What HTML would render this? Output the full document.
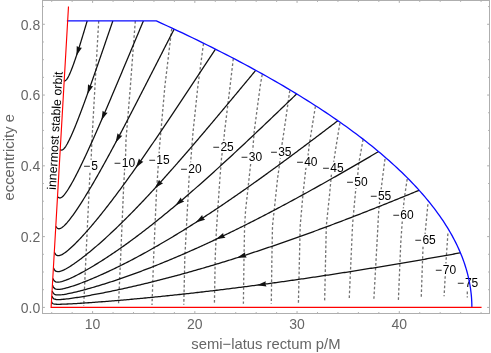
<!DOCTYPE html>
<html><head><meta charset="utf-8"><title>plot</title><style>html,body{margin:0;padding:0;background:#fff}body{width:491px;height:353px;position:relative;overflow:hidden;font-family:"Liberation Sans",sans-serif}</style></head><body>
<svg width="491" height="353" viewBox="0 0 491 353" style="position:absolute;left:0;top:0;will-change:transform">
<rect width="491" height="353" fill="#fff"/>
<g fill="none" stroke="#727272" stroke-width="1.3" stroke-dasharray="2.6 2.15">
<polyline points="98.70,21.00 95.00,86.00 91.80,142.90 91.10,160.00 90.00,172.00 85.90,258.00 83.70,306.00"/>
<polyline points="135.30,21.00 130.40,86.00 126.00,140.00 125.60,155.70 124.60,169.20 123.50,190.00 120.60,258.00 118.50,305.00"/>
<polyline points="171.70,28.80 164.90,86.00 159.60,146.00 158.20,166.40 156.40,193.50 153.60,258.00 152.00,305.00"/>
<polyline points="203.50,43.50 197.90,86.00 193.10,131.40 190.70,161.40 189.20,175.60 186.50,226.00 184.80,258.00 183.80,304.80"/>
<polyline points="233.30,58.70 230.10,86.00 224.60,131.40 223.20,146.80 221.60,157.00 219.90,178.50 216.30,232.00 215.20,258.00 214.40,304.80"/>
<polyline points="262.20,74.50 260.20,86.00 254.20,131.40 252.80,150.00 250.70,163.50 249.00,179.20 245.60,210.00 244.60,226.00 244.00,258.00 243.40,303.80"/>
<polyline points="289.80,90.50 284.20,130.00 281.80,145.70 280.30,158.50 277.50,179.20 272.50,226.00 271.90,258.00 271.30,303.80"/>
<polyline points="315.40,106.40 309.20,145.00 308.20,154.30 305.70,170.00 303.10,192.80 300.20,226.00 298.40,303.20"/>
<polyline points="339.90,123.00 336.30,145.00 333.90,160.70 331.30,175.70 329.60,194.20 326.30,226.00 324.60,302.60"/>
<polyline points="363.10,139.40 358.50,165.00 357.80,174.30 355.70,190.00 353.50,213.50 352.50,226.00 349.20,299.90"/>
<polyline points="385.00,159.00 384.20,165.00 381.30,187.80 379.20,205.60 378.50,214.20 377.60,232.00 373.80,300.40"/>
<polyline points="407.20,179.00 404.20,199.30 403.50,206.40 402.10,223.50 400.70,244.20 398.40,299.90"/>
<polyline points="427.90,204.20 425.20,232.80 423.00,247.30 421.20,298.80"/>
<polyline points="447.90,233.50 446.10,260.10 445.10,278.20 444.10,296.20"/>
<polyline points="467.30,291.60 467.30,297.60"/>
</g>
<g fill="#fff" stroke="none">
<rect x="83.4" y="159.8" width="14.7" height="12.4"/>
<rect x="113.9" y="156.3" width="21.4" height="12.4"/>
<rect x="148.5" y="153.2" width="21.4" height="12.4"/>
<rect x="180.4" y="162.3" width="21.4" height="12.4"/>
<rect x="212.6" y="140.6" width="21.4" height="12.4"/>
<rect x="240.9" y="150.2" width="21.4" height="12.4"/>
<rect x="270.3" y="145.9" width="21.4" height="12.4"/>
<rect x="296.3" y="155.4" width="21.4" height="12.4"/>
<rect x="322.4" y="161.8" width="21.4" height="12.4"/>
<rect x="346.4" y="175.6" width="21.4" height="12.4"/>
<rect x="370.1" y="189.3" width="21.4" height="12.4"/>
<rect x="392.5" y="208.3" width="21.4" height="12.4"/>
<rect x="414.6" y="233.9" width="21.4" height="12.4"/>
<rect x="435.0" y="263.4" width="21.4" height="12.4"/>
<rect x="457.1" y="276.5" width="21.4" height="12.4"/>
</g>
<g font-family="Liberation Sans, sans-serif" font-size="12" fill="#000">
<text x="97.85" y="170.3" text-anchor="end">5</text><text x="83.30" y="170.3">−</text>
<text x="135.10" y="166.8" text-anchor="end">10</text><text x="113.85" y="166.8">−</text>
<text x="169.70" y="163.7" text-anchor="end">15</text><text x="148.45" y="163.7">−</text>
<text x="201.60" y="172.8" text-anchor="end">20</text><text x="180.35" y="172.8">−</text>
<text x="233.80" y="151.1" text-anchor="end">25</text><text x="212.55" y="151.1">−</text>
<text x="262.10" y="160.7" text-anchor="end">30</text><text x="240.85" y="160.7">−</text>
<text x="291.50" y="156.4" text-anchor="end">35</text><text x="270.25" y="156.4">−</text>
<text x="317.50" y="165.9" text-anchor="end">40</text><text x="296.25" y="165.9">−</text>
<text x="343.60" y="172.3" text-anchor="end">45</text><text x="322.35" y="172.3">−</text>
<text x="367.60" y="186.1" text-anchor="end">50</text><text x="346.35" y="186.1">−</text>
<text x="391.30" y="199.8" text-anchor="end">55</text><text x="370.05" y="199.8">−</text>
<text x="413.70" y="218.8" text-anchor="end">60</text><text x="392.45" y="218.8">−</text>
<text x="435.80" y="244.4" text-anchor="end">65</text><text x="414.55" y="244.4">−</text>
<text x="456.20" y="273.9" text-anchor="end">70</text><text x="434.95" y="273.9">−</text>
<text x="478.30" y="287.0" text-anchor="end">75</text><text x="457.05" y="287.0">−</text>
</g>
<g fill="none" stroke="#111" stroke-width="1.28" stroke-linejoin="round">
<polyline points="87.18,20.92 86.94,21.73 86.51,23.17 86.09,24.61 85.66,26.05 85.23,27.48 84.80,28.92 84.37,30.36 83.94,31.79 83.50,33.23 83.07,34.66 82.63,36.10 82.19,37.53 81.75,38.97 81.31,40.40 80.87,41.83 80.42,43.27 79.98,44.70 79.53,46.13 79.08,47.56 78.62,48.99 78.16,50.42 77.70,51.85 77.24,53.27 76.77,54.70 76.30,56.12 75.83,57.54 75.35,58.97 74.86,60.39 74.37,61.80 73.87,63.22 73.37,64.63 72.85,66.04 72.33,67.44 71.79,68.85 71.24,70.24 70.68,71.63 70.10,73.01 69.49,74.38 68.85,75.74 68.16,77.07 67.41,78.37 66.55,79.60 65.47,80.63 64.00,81.25"/>
<polyline points="112.84,20.92 112.56,21.72 112.08,23.14 111.59,24.56 111.10,25.98 110.61,27.40 110.13,28.82 109.64,30.24 109.15,31.65 108.67,33.07 108.18,34.49 107.69,35.91 107.20,37.33 106.71,38.75 106.23,40.17 105.74,41.58 105.25,43.00 104.76,44.42 104.27,45.84 103.79,47.26 103.30,48.68 102.81,50.09 102.32,51.51 101.83,52.93 101.34,54.35 100.85,55.77 100.36,57.18 99.87,58.60 99.38,60.02 98.89,61.44 98.40,62.85 97.91,64.27 97.42,65.69 96.92,67.10 96.43,68.52 95.94,69.94 95.44,71.35 94.95,72.77 94.45,74.19 93.96,75.60 93.46,77.02 92.96,78.43 92.47,79.85 91.97,81.26 91.47,82.68 90.97,84.09 90.47,85.50 89.97,86.92 89.46,88.33 88.96,89.74 88.46,91.16 87.95,92.57 87.44,93.98 86.94,95.39 86.43,96.80 85.92,98.21 85.40,99.62 84.89,101.03 84.38,102.44 83.86,103.85 83.34,105.26 82.82,106.66 82.30,108.07 81.77,109.48 81.25,110.88 80.72,112.28 80.19,113.69 79.65,115.09 79.12,116.49 78.58,117.89 78.04,119.29 77.49,120.69 76.94,122.08 76.39,123.47 75.83,124.87 75.27,126.26 74.70,127.65 74.12,129.03 73.54,130.42 72.96,131.80 72.36,133.17 71.76,134.55 71.15,135.92 70.52,137.28 69.89,138.64 69.24,139.99 68.57,141.33 67.88,142.66 67.16,143.98 66.41,145.28 65.61,146.55 64.74,147.77 63.77,148.92 62.61,149.86 61.22,150.08 59.97,149.58"/>
<polyline points="143.41,20.92 143.08,21.71 142.49,23.09 141.91,24.47 141.33,25.85 140.75,27.24 140.17,28.62 139.58,30.00 139.00,31.38 138.42,32.77 137.84,34.15 137.26,35.53 136.68,36.91 136.10,38.30 135.52,39.68 134.94,41.06 134.36,42.45 133.78,43.83 133.20,45.21 132.62,46.60 132.04,47.98 131.46,49.36 130.88,50.75 130.30,52.13 129.72,53.51 129.14,54.90 128.56,56.28 127.98,57.66 127.39,59.05 126.81,60.43 126.23,61.81 125.65,63.20 125.07,64.58 124.49,65.96 123.91,67.35 123.33,68.73 122.75,70.11 122.17,71.49 121.59,72.88 121.01,74.26 120.43,75.64 119.85,77.03 119.26,78.41 118.68,79.79 118.10,81.17 117.52,82.56 116.94,83.94 116.35,85.32 115.77,86.70 115.19,88.08 114.60,89.47 114.02,90.85 113.43,92.23 112.85,93.61 112.26,94.99 111.68,96.37 111.09,97.75 110.51,99.13 109.92,100.51 109.33,101.89 108.74,103.27 108.15,104.65 107.57,106.03 106.98,107.41 106.39,108.79 105.79,110.17 105.20,111.55 104.61,112.93 104.02,114.30 103.42,115.68 102.83,117.06 102.24,118.44 101.64,119.81 101.04,121.19 100.44,122.57 99.85,123.94 99.25,125.32 98.65,126.69 98.04,128.06 97.44,129.44 96.84,130.81 96.23,132.18 95.63,133.56 95.02,134.93 94.41,136.30 93.80,137.67 93.19,139.04 92.58,140.41 91.97,141.78 91.35,143.14 90.73,144.51 90.11,145.88 89.49,147.24 88.87,148.61 88.25,149.97 87.62,151.34 86.99,152.70 86.36,154.06 85.73,155.42 85.09,156.78 84.45,158.13 83.81,159.49 83.17,160.85 82.52,162.20 81.88,163.55 81.22,164.90 80.57,166.25 79.91,167.60 79.24,168.94 78.58,170.29 77.91,171.63 77.23,172.97 76.55,174.30 75.86,175.64 75.17,176.97 74.47,178.29 73.76,179.62 73.05,180.94 72.32,182.25 71.59,183.56 70.85,184.86 70.09,186.16 69.32,187.45 68.54,188.72 67.73,189.99 66.90,191.24 66.05,192.47 65.15,193.68 64.21,194.85 63.21,195.96 62.10,196.97 60.84,197.77 59.38,197.99 58.15,197.19 57.41,196.52"/>
<polyline points="174.18,29.13 173.79,29.89 173.10,31.23 172.42,32.56 171.73,33.89 171.05,35.23 170.36,36.56 169.68,37.90 169.00,39.23 168.31,40.57 167.63,41.90 166.94,43.24 166.26,44.57 165.58,45.91 164.89,47.24 164.21,48.58 163.53,49.91 162.84,51.25 162.16,52.59 161.48,53.92 160.79,55.26 160.11,56.59 159.43,57.93 158.75,59.26 158.06,60.60 157.38,61.93 156.70,63.27 156.02,64.61 155.33,65.94 154.65,67.28 153.97,68.61 153.29,69.95 152.60,71.28 151.92,72.62 151.24,73.96 150.55,75.29 149.87,76.63 149.19,77.96 148.50,79.30 147.82,80.63 147.14,81.97 146.45,83.30 145.77,84.64 145.09,85.97 144.40,87.31 143.72,88.64 143.03,89.98 142.35,91.31 141.66,92.65 140.98,93.98 140.29,95.32 139.61,96.65 138.92,97.98 138.24,99.32 137.55,100.65 136.86,101.98 136.18,103.32 135.49,104.65 134.80,105.98 134.11,107.32 133.42,108.65 132.73,109.98 132.05,111.31 131.36,112.65 130.66,113.98 129.97,115.31 129.28,116.64 128.59,117.97 127.90,119.30 127.21,120.63 126.51,121.96 125.82,123.29 125.12,124.62 124.43,125.95 123.73,127.28 123.03,128.61 122.34,129.94 121.64,131.26 120.94,132.59 120.24,133.92 119.54,135.24 118.84,136.57 118.14,137.89 117.43,139.22 116.73,140.54 116.02,141.87 115.32,143.19 114.61,144.52 113.90,145.84 113.20,147.16 112.49,148.48 111.77,149.80 111.06,151.12 110.35,152.44 109.63,153.76 108.92,155.08 108.20,156.40 107.48,157.71 106.76,159.03 106.04,160.34 105.32,161.66 104.60,162.97 103.87,164.29 103.14,165.60 102.42,166.91 101.69,168.22 100.95,169.53 100.22,170.84 99.49,172.14 98.75,173.45 98.01,174.76 97.27,176.06 96.52,177.36 95.78,178.67 95.03,179.97 94.28,181.26 93.53,182.56 92.77,183.86 92.02,185.15 91.26,186.45 90.50,187.74 89.73,189.03 88.96,190.32 88.19,191.60 87.42,192.89 86.64,194.17 85.86,195.45 85.07,196.73 84.28,198.01 83.49,199.28 82.69,200.55 81.89,201.82 81.09,203.08 80.28,204.35 79.46,205.60 78.64,206.86 77.81,208.11 76.98,209.36 76.13,210.60 75.29,211.83 74.43,213.07 73.56,214.29 72.69,215.51 71.80,216.72 70.90,217.92 69.99,219.11 69.06,220.29 68.11,221.45 67.14,222.59 66.14,223.71 65.12,224.81 64.04,225.86 62.92,226.85 61.72,227.74 60.40,228.46 58.95,228.81 57.53,228.40 56.52,227.31 55.82,226.33"/>
<polyline points="215.48,49.15 215.01,49.87 214.18,51.12 213.35,52.37 212.53,53.62 211.70,54.87 210.87,56.12 210.04,57.37 209.22,58.62 208.39,59.88 207.56,61.13 206.73,62.38 205.91,63.63 205.08,64.88 204.25,66.13 203.43,67.38 202.60,68.64 201.77,69.89 200.95,71.14 200.12,72.39 199.29,73.64 198.47,74.89 197.64,76.15 196.81,77.40 195.98,78.65 195.16,79.90 194.33,81.15 193.50,82.40 192.68,83.65 191.85,84.90 191.02,86.16 190.19,87.41 189.37,88.66 188.54,89.91 187.71,91.16 186.88,92.41 186.05,93.66 185.22,94.91 184.39,96.16 183.57,97.41 182.74,98.66 181.91,99.91 181.08,101.16 180.25,102.41 179.42,103.66 178.59,104.91 177.76,106.16 176.93,107.41 176.09,108.65 175.26,109.90 174.43,111.15 173.60,112.40 172.76,113.65 171.93,114.89 171.10,116.14 170.26,117.39 169.43,118.63 168.60,119.88 167.76,121.13 166.92,122.37 166.09,123.62 165.25,124.86 164.41,126.11 163.58,127.35 162.74,128.59 161.90,129.84 161.06,131.08 160.22,132.32 159.38,133.57 158.54,134.81 157.70,136.05 156.85,137.29 156.01,138.53 155.17,139.77 154.32,141.01 153.48,142.25 152.63,143.49 151.79,144.73 150.94,145.97 150.09,147.20 149.24,148.44 148.39,149.68 147.54,150.91 146.69,152.15 145.84,153.38 144.98,154.61 144.13,155.85 143.27,157.08 142.42,158.31 141.56,159.54 140.70,160.77 139.84,162.00 138.98,163.23 138.12,164.46 137.25,165.68 136.39,166.91 135.53,168.13 134.66,169.36 133.79,170.58 132.92,171.80 132.05,173.03 131.18,174.25 130.31,175.47 129.43,176.69 128.56,177.90 127.68,179.12 126.80,180.34 125.92,181.55 125.04,182.76 124.16,183.98 123.27,185.19 122.39,186.40 121.50,187.61 120.61,188.82 119.72,190.02 118.82,191.23 117.93,192.43 117.03,193.63 116.13,194.83 115.23,196.03 114.33,197.23 113.42,198.43 112.52,199.62 111.61,200.81 110.70,202.01 109.78,203.20 108.87,204.38 107.95,205.57 107.03,206.75 106.10,207.94 105.18,209.12 104.25,210.30 103.32,211.47 102.39,212.65 101.45,213.82 100.51,214.99 99.57,216.15 98.63,217.32 97.68,218.48 96.73,219.64 95.77,220.80 94.81,221.95 93.85,223.10 92.89,224.25 91.92,225.40 90.95,226.54 89.97,227.68 88.99,228.81 88.00,229.94 87.01,231.07 86.02,232.20 85.02,233.31 84.02,234.43 83.01,235.54 81.99,236.64 80.97,237.74 79.94,238.83 78.91,239.92 77.87,241.00 76.82,242.07 75.76,243.14 74.70,244.19 73.62,245.24 72.54,246.27 71.44,247.30 70.33,248.30 69.20,249.29 68.06,250.27 66.89,251.21 65.71,252.13 64.49,253.00 63.23,253.83 61.93,254.57 60.57,255.20 59.14,255.63 57.65,255.68 56.28,255.11 55.28,254.00 54.39,252.42"/>
<polyline points="255.76,70.30 255.21,70.96 254.26,72.12 253.30,73.27 252.34,74.42 251.38,75.58 250.42,76.73 249.46,77.89 248.51,79.04 247.55,80.19 246.59,81.35 245.63,82.50 244.67,83.66 243.71,84.81 242.76,85.96 241.80,87.12 240.84,88.27 239.88,89.42 238.92,90.58 237.96,91.73 237.00,92.88 236.04,94.04 235.08,95.19 234.12,96.34 233.16,97.49 232.20,98.65 231.24,99.80 230.28,100.95 229.32,102.10 228.36,103.25 227.40,104.41 226.44,105.56 225.48,106.71 224.51,107.86 223.55,109.01 222.59,110.16 221.63,111.31 220.66,112.46 219.70,113.61 218.74,114.76 217.77,115.91 216.81,117.06 215.84,118.21 214.88,119.36 213.91,120.50 212.95,121.65 211.98,122.80 211.02,123.95 210.05,125.09 209.08,126.24 208.11,127.39 207.15,128.53 206.18,129.68 205.21,130.82 204.24,131.97 203.27,133.11 202.30,134.25 201.33,135.40 200.35,136.54 199.38,137.68 198.41,138.82 197.44,139.97 196.46,141.11 195.49,142.25 194.51,143.39 193.54,144.53 192.56,145.66 191.58,146.80 190.60,147.94 189.63,149.08 188.65,150.21 187.67,151.35 186.69,152.48 185.70,153.62 184.72,154.75 183.74,155.88 182.76,157.02 181.77,158.15 180.79,159.28 179.80,160.41 178.81,161.54 177.82,162.67 176.84,163.80 175.85,164.92 174.85,166.05 173.86,167.17 172.87,168.30 171.88,169.42 170.88,170.54 169.89,171.67 168.89,172.79 167.89,173.91 166.89,175.03 165.89,176.14 164.89,177.26 163.89,178.38 162.89,179.49 161.88,180.61 160.88,181.72 159.87,182.83 158.86,183.94 157.85,185.05 156.84,186.16 155.83,187.27 154.82,188.37 153.80,189.48 152.78,190.58 151.77,191.68 150.75,192.78 149.73,193.88 148.71,194.98 147.68,196.08 146.66,197.17 145.63,198.27 144.60,199.36 143.57,200.45 142.54,201.54 141.51,202.63 140.47,203.71 139.44,204.80 138.40,205.88 137.36,206.96 136.32,208.04 135.28,209.12 134.23,210.20 133.18,211.27 132.14,212.34 131.08,213.41 130.03,214.48 128.98,215.55 127.92,216.61 126.86,217.67 125.80,218.73 124.74,219.79 123.67,220.85 122.60,221.90 121.53,222.95 120.46,224.00 119.39,225.05 118.31,226.09 117.23,227.14 116.15,228.18 115.07,229.21 113.98,230.25 112.89,231.28 111.80,232.31 110.70,233.33 109.61,234.35 108.51,235.37 107.40,236.39 106.30,237.40 105.19,238.41 104.08,239.42 102.96,240.43 101.84,241.43 100.72,242.42 99.60,243.41 98.47,244.40 97.34,245.39 96.21,246.37 95.07,247.35 93.92,248.32 92.78,249.29 91.63,250.25 90.47,251.21 89.32,252.16 88.15,253.11 86.99,254.05 85.82,254.99 84.64,255.92 83.46,256.84 82.27,257.76 81.08,258.67 79.88,259.57 78.67,260.47 77.46,261.35 76.25,262.23 75.02,263.09 73.79,263.94 72.54,264.78 71.29,265.61 70.03,266.42 68.75,267.21 67.46,267.97 66.16,268.71 64.83,269.41 63.48,270.07 62.10,270.66 60.69,271.17 59.24,271.54 57.75,271.68 56.28,271.42 55.04,270.60 54.18,269.38 53.54,268.07"/>
<polyline points="296.65,93.91 296.03,94.51 294.95,95.55 293.87,96.59 292.79,97.63 291.71,98.67 290.63,99.71 289.55,100.75 288.47,101.79 287.39,102.83 286.31,103.87 285.23,104.91 284.15,105.95 283.06,106.99 281.98,108.02 280.90,109.06 279.82,110.10 278.73,111.14 277.65,112.18 276.57,113.22 275.49,114.25 274.40,115.29 273.32,116.33 272.23,117.36 271.15,118.40 270.06,119.44 268.98,120.47 267.89,121.51 266.81,122.54 265.72,123.58 264.64,124.61 263.55,125.65 262.46,126.68 261.38,127.71 260.29,128.75 259.20,129.78 258.11,130.81 257.02,131.84 255.93,132.87 254.84,133.90 253.75,134.94 252.66,135.97 251.57,136.99 250.48,138.02 249.39,139.05 248.30,140.08 247.20,141.11 246.11,142.14 245.02,143.16 243.92,144.19 242.83,145.21 241.73,146.24 240.64,147.26 239.54,148.29 238.45,149.31 237.35,150.33 236.25,151.35 235.15,152.38 234.05,153.40 232.95,154.42 231.85,155.44 230.75,156.46 229.65,157.47 228.55,158.49 227.44,159.51 226.34,160.52 225.24,161.54 224.13,162.55 223.03,163.57 221.92,164.58 220.81,165.59 219.71,166.60 218.60,167.61 217.49,168.62 216.38,169.63 215.27,170.64 214.15,171.65 213.04,172.65 211.93,173.66 210.81,174.66 209.70,175.67 208.58,176.67 207.47,177.67 206.35,178.67 205.23,179.67 204.11,180.67 202.99,181.67 201.87,182.66 200.75,183.66 199.62,184.65 198.50,185.65 197.38,186.64 196.25,187.63 195.12,188.62 193.99,189.61 192.86,190.59 191.73,191.58 190.60,192.56 189.47,193.55 188.34,194.53 187.20,195.51 186.07,196.49 184.93,197.47 183.79,198.45 182.65,199.42 181.51,200.40 180.37,201.37 179.23,202.34 178.08,203.31 176.94,204.28 175.79,205.24 174.64,206.21 173.49,207.17 172.34,208.14 171.19,209.10 170.03,210.06 168.88,211.01 167.72,211.97 166.57,212.92 165.41,213.87 164.25,214.82 163.08,215.77 161.92,216.72 160.76,217.66 159.59,218.61 158.42,219.55 157.25,220.49 156.08,221.43 154.91,222.36 153.73,223.29 152.56,224.23 151.38,225.15 150.20,226.08 149.02,227.01 147.84,227.93 146.65,228.85 145.47,229.77 144.28,230.68 143.09,231.60 141.90,232.51 140.71,233.42 139.51,234.32 138.31,235.23 137.11,236.13 135.91,237.03 134.71,237.93 133.51,238.82 132.30,239.71 131.09,240.60 129.88,241.48 128.67,242.37 127.45,243.25 126.24,244.12 125.02,245.00 123.80,245.87 122.57,246.74 121.35,247.60 120.12,248.46 118.89,249.32 117.66,250.18 116.42,251.03 115.19,251.88 113.95,252.72 112.70,253.56 111.46,254.40 110.21,255.24 108.96,256.07 107.71,256.89 106.46,257.71 105.20,258.53 103.94,259.35 102.68,260.16 101.41,260.96 100.14,261.76 98.87,262.56 97.60,263.35 96.32,264.14 95.04,264.92 93.76,265.70 92.47,266.47 91.18,267.24 89.89,268.00 88.59,268.75 87.29,269.50 85.99,270.24 84.68,270.98 83.37,271.71 82.06,272.43 80.74,273.14 79.41,273.84 78.08,274.54 76.75,275.22 75.41,275.90 74.06,276.56 72.71,277.21 71.35,277.85 69.99,278.47 68.61,279.07 67.23,279.65 65.84,280.20 64.43,280.72 63.01,281.20 61.57,281.62 60.11,281.96 58.62,282.17 57.12,282.19 55.67,281.86 54.43,281.03 53.59,279.79 52.96,278.42"/>
<polyline points="337.85,120.69 337.24,121.16 336.04,122.07 334.85,122.98 333.66,123.89 332.47,124.80 331.27,125.71 330.08,126.62 328.89,127.53 327.69,128.43 326.50,129.34 325.31,130.25 324.11,131.16 322.92,132.07 321.72,132.97 320.53,133.88 319.33,134.78 318.13,135.69 316.94,136.59 315.74,137.50 314.54,138.40 313.35,139.31 312.15,140.21 310.95,141.11 309.75,142.01 308.55,142.92 307.36,143.82 306.16,144.72 304.96,145.62 303.76,146.52 302.56,147.42 301.35,148.32 300.15,149.22 298.95,150.11 297.75,151.01 296.55,151.91 295.34,152.80 294.14,153.70 292.94,154.59 291.73,155.49 290.53,156.38 289.32,157.27 288.12,158.17 286.91,159.06 285.70,159.95 284.50,160.84 283.29,161.73 282.08,162.62 280.87,163.51 279.66,164.39 278.45,165.28 277.24,166.17 276.03,167.05 274.82,167.94 273.61,168.82 272.40,169.70 271.18,170.59 269.97,171.47 268.76,172.35 267.54,173.23 266.33,174.11 265.11,174.99 263.89,175.86 262.68,176.74 261.46,177.62 260.24,178.49 259.02,179.37 257.80,180.24 256.58,181.11 255.36,181.98 254.14,182.85 252.92,183.72 251.69,184.59 250.47,185.46 249.24,186.32 248.02,187.19 246.79,188.05 245.57,188.92 244.34,189.78 243.11,190.64 241.88,191.50 240.65,192.36 239.42,193.22 238.19,194.07 236.96,194.93 235.73,195.78 234.49,196.64 233.26,197.49 232.02,198.34 230.79,199.19 229.55,200.04 228.31,200.89 227.07,201.73 225.83,202.58 224.59,203.42 223.35,204.26 222.11,205.10 220.87,205.94 219.62,206.78 218.38,207.62 217.13,208.45 215.89,209.29 214.64,210.12 213.39,210.95 212.14,211.78 210.89,212.61 209.64,213.44 208.39,214.26 207.13,215.09 205.88,215.91 204.62,216.73 203.37,217.55 202.11,218.37 200.85,219.18 199.59,220.00 198.33,220.81 197.07,221.62 195.80,222.43 194.54,223.24 193.27,224.04 192.01,224.85 190.74,225.65 189.47,226.45 188.20,227.25 186.93,228.05 185.66,228.84 184.39,229.63 183.11,230.43 181.84,231.22 180.56,232.00 179.28,232.79 178.00,233.57 176.72,234.35 175.44,235.13 174.16,235.91 172.88,236.69 171.59,237.46 170.30,238.23 169.02,239.00 167.73,239.77 166.44,240.53 165.15,241.30 163.85,242.06 162.56,242.81 161.26,243.57 159.97,244.32 158.67,245.08 157.37,245.82 156.07,246.57 154.76,247.31 153.46,248.06 152.16,248.80 150.85,249.53 149.54,250.27 148.23,251.00 146.92,251.73 145.61,252.45 144.29,253.18 142.98,253.90 141.66,254.61 140.34,255.33 139.02,256.04 137.70,256.75 136.38,257.46 135.05,258.16 133.73,258.86 132.40,259.56 131.07,260.26 129.74,260.95 128.41,261.64 127.07,262.32 125.74,263.00 124.40,263.68 123.06,264.36 121.72,265.03 120.38,265.70 119.03,266.36 117.69,267.03 116.34,267.69 114.99,268.34 113.64,268.99 112.28,269.64 110.93,270.28 109.57,270.92 108.21,271.56 106.85,272.19 105.49,272.82 104.13,273.44 102.76,274.06 101.39,274.67 100.02,275.28 98.65,275.89 97.27,276.49 95.90,277.09 94.52,277.68 93.14,278.26 91.76,278.84 90.37,279.42 88.98,279.99 87.59,280.55 86.20,281.11 84.81,281.66 83.41,282.21 82.01,282.74 80.60,283.27 79.20,283.80 77.79,284.31 76.38,284.81 74.96,285.31 73.54,285.79 72.12,286.26 70.69,286.72 69.25,287.16 67.81,287.59 66.37,287.99 64.92,288.36 63.46,288.70 61.99,289.00 60.51,289.24 59.01,289.39 57.51,289.40 56.03,289.18 54.67,288.57 53.63,287.50 52.99,286.15 52.61,285.21"/>
<polyline points="378.54,151.59 377.80,152.02 376.50,152.78 375.21,153.54 373.92,154.30 372.62,155.06 371.33,155.82 370.04,156.58 368.74,157.33 367.45,158.09 366.15,158.85 364.85,159.60 363.56,160.36 362.26,161.11 360.97,161.87 359.67,162.62 358.37,163.37 357.07,164.12 355.78,164.88 354.48,165.63 353.18,166.38 351.88,167.13 350.58,167.88 349.28,168.63 347.98,169.37 346.68,170.12 345.38,170.87 344.08,171.62 342.78,172.36 341.47,173.11 340.17,173.85 338.87,174.59 337.57,175.34 336.26,176.08 334.96,176.82 333.65,177.56 332.35,178.30 331.04,179.04 329.74,179.78 328.43,180.52 327.13,181.25 325.82,181.99 324.51,182.73 323.20,183.46 321.90,184.19 320.59,184.93 319.28,185.66 317.97,186.39 316.66,187.12 315.35,187.85 314.04,188.58 312.73,189.31 311.41,190.04 310.10,190.76 308.79,191.49 307.48,192.21 306.16,192.94 304.85,193.66 303.53,194.38 302.22,195.11 300.90,195.83 299.59,196.54 298.27,197.26 296.95,197.98 295.64,198.70 294.32,199.41 293.00,200.13 291.68,200.84 290.36,201.55 289.04,202.27 287.72,202.98 286.40,203.69 285.07,204.39 283.75,205.10 282.43,205.81 281.10,206.51 279.78,207.22 278.45,207.92 277.13,208.62 275.80,209.32 274.48,210.02 273.15,210.72 271.82,211.42 270.49,212.12 269.16,212.81 267.83,213.51 266.50,214.20 265.17,214.89 263.84,215.58 262.51,216.27 261.18,216.96 259.84,217.65 258.51,218.33 257.17,219.02 255.84,219.70 254.50,220.38 253.17,221.06 251.83,221.74 250.49,222.42 249.15,223.10 247.81,223.77 246.47,224.45 245.13,225.12 243.79,225.79 242.45,226.46 241.11,227.13 239.76,227.80 238.42,228.46 237.07,229.13 235.73,229.79 234.38,230.45 233.04,231.11 231.69,231.77 230.34,232.43 228.99,233.08 227.64,233.74 226.29,234.39 224.94,235.04 223.59,235.69 222.23,236.34 220.88,236.99 219.53,237.63 218.17,238.27 216.81,238.92 215.46,239.56 214.10,240.19 212.74,240.83 211.38,241.47 210.02,242.10 208.66,242.73 207.30,243.36 205.94,243.99 204.58,244.62 203.21,245.24 201.85,245.86 200.48,246.48 199.12,247.10 197.75,247.72 196.38,248.34 195.01,248.95 193.64,249.56 192.27,250.17 190.90,250.78 189.53,251.39 188.16,251.99 186.78,252.59 185.41,253.20 184.03,253.79 182.66,254.39 181.28,254.99 179.90,255.58 178.52,256.17 177.14,256.76 175.76,257.34 174.38,257.93 173.00,258.51 171.62,259.09 170.23,259.67 168.85,260.25 167.46,260.82 166.08,261.39 164.69,261.96 163.30,262.53 161.91,263.09 160.52,263.66 159.13,264.22 157.74,264.77 156.34,265.33 154.95,265.88 153.55,266.43 152.16,266.98 150.76,267.53 149.36,268.07 147.96,268.61 146.56,269.15 145.16,269.69 143.76,270.22 142.36,270.76 140.95,271.28 139.55,271.81 138.14,272.33 136.74,272.85 135.33,273.37 133.92,273.89 132.51,274.40 131.10,274.91 129.69,275.42 128.28,275.92 126.86,276.42 125.45,276.92 124.03,277.42 122.62,277.91 121.20,278.40 119.78,278.89 118.36,279.37 116.94,279.85 115.52,280.33 114.09,280.81 112.67,281.28 111.24,281.74 109.82,282.21 108.39,282.67 106.96,283.13 105.53,283.58 104.10,284.03 102.67,284.48 101.24,284.92 99.80,285.36 98.37,285.80 96.93,286.23 95.49,286.66 94.05,287.08 92.61,287.50 91.17,287.92 89.73,288.33 88.29,288.73 86.84,289.13 85.39,289.53 83.95,289.92 82.50,290.30 81.04,290.68 79.59,291.06 78.14,291.42 76.68,291.78 75.22,292.13 73.76,292.48 72.30,292.81 70.83,293.13 69.37,293.44 67.90,293.74 66.42,294.02 64.95,294.28 63.47,294.52 61.98,294.72 60.49,294.88 58.99,294.98 57.49,294.98 56.00,294.82 54.58,294.36 53.42,293.42 52.71,292.11 52.26,290.99"/>
<polyline points="419.12,190.26 418.44,190.55 417.05,191.12 415.67,191.69 414.28,192.26 412.89,192.83 411.51,193.40 410.12,193.97 408.73,194.54 407.34,195.11 405.95,195.68 404.57,196.25 403.18,196.82 401.79,197.38 400.40,197.95 399.01,198.51 397.62,199.08 396.23,199.64 394.84,200.20 393.45,200.77 392.06,201.33 390.67,201.89 389.27,202.45 387.88,203.01 386.49,203.57 385.10,204.12 383.71,204.68 382.31,205.24 380.92,205.79 379.53,206.35 378.13,206.90 376.74,207.46 375.34,208.01 373.95,208.56 372.55,209.11 371.16,209.67 369.76,210.22 368.37,210.76 366.97,211.31 365.58,211.86 364.18,212.41 362.78,212.95 361.38,213.50 359.99,214.04 358.59,214.59 357.19,215.13 355.79,215.67 354.39,216.21 352.99,216.75 351.59,217.29 350.19,217.83 348.79,218.37 347.39,218.91 345.99,219.44 344.59,219.98 343.19,220.51 341.79,221.05 340.39,221.58 338.98,222.11 337.58,222.64 336.18,223.17 334.77,223.70 333.37,224.23 331.97,224.76 330.56,225.29 329.16,225.81 327.75,226.34 326.35,226.86 324.94,227.38 323.53,227.91 322.13,228.43 320.72,228.95 319.31,229.47 317.91,229.99 316.50,230.50 315.09,231.02 313.68,231.53 312.27,232.05 310.86,232.56 309.45,233.07 308.04,233.59 306.63,234.10 305.22,234.61 303.81,235.11 302.40,235.62 300.99,236.13 299.57,236.63 298.16,237.14 296.75,237.64 295.34,238.14 293.92,238.64 292.51,239.15 291.09,239.64 289.68,240.14 288.26,240.64 286.85,241.13 285.43,241.63 284.01,242.12 282.60,242.62 281.18,243.11 279.76,243.60 278.34,244.09 276.93,244.58 275.51,245.06 274.09,245.55 272.67,246.03 271.25,246.52 269.83,247.00 268.41,247.48 266.99,247.96 265.57,248.44 264.14,248.92 262.72,249.39 261.30,249.87 259.88,250.34 258.45,250.81 257.03,251.29 255.60,251.76 254.18,252.23 252.75,252.69 251.33,253.16 249.90,253.63 248.48,254.09 247.05,254.55 245.62,255.02 244.19,255.48 242.77,255.94 241.34,256.39 239.91,256.85 238.48,257.30 237.05,257.76 235.62,258.21 234.19,258.66 232.76,259.11 231.33,259.56 229.90,260.01 228.46,260.45 227.03,260.90 225.60,261.34 224.16,261.78 222.73,262.22 221.30,262.66 219.86,263.10 218.43,263.54 216.99,263.97 215.55,264.41 214.12,264.84 212.68,265.27 211.24,265.70 209.81,266.13 208.37,266.55 206.93,266.98 205.49,267.40 204.05,267.82 202.61,268.24 201.17,268.66 199.73,269.08 198.29,269.49 196.85,269.91 195.40,270.32 193.96,270.73 192.52,271.14 191.08,271.55 189.63,271.96 188.19,272.36 186.74,272.76 185.30,273.17 183.85,273.57 182.41,273.96 180.96,274.36 179.51,274.76 178.06,275.15 176.62,275.54 175.17,275.93 173.72,276.32 172.27,276.71 170.82,277.09 169.37,277.48 167.92,277.86 166.47,278.24 165.02,278.62 163.57,278.99 162.11,279.37 160.66,279.74 159.21,280.11 157.75,280.48 156.30,280.85 154.84,281.21 153.39,281.58 151.93,281.94 150.48,282.30 149.02,282.66 147.56,283.02 146.11,283.37 144.65,283.72 143.19,284.07 141.73,284.42 140.27,284.77 138.81,285.12 137.35,285.46 135.89,285.80 134.43,286.14 132.97,286.48 131.51,286.81 130.04,287.14 128.58,287.47 127.12,287.80 125.65,288.13 124.19,288.45 122.72,288.78 121.26,289.10 119.79,289.41 118.33,289.73 116.86,290.04 115.39,290.35 113.92,290.66 112.46,290.97 110.99,291.27 109.52,291.58 108.05,291.88 106.58,292.17 105.11,292.47 103.63,292.76 102.16,293.05 100.69,293.33 99.22,293.62 97.74,293.90 96.27,294.18 94.80,294.45 93.32,294.73 91.85,294.99 90.37,295.26 88.89,295.52 87.41,295.78 85.94,296.04 84.46,296.29 82.98,296.54 81.50,296.79 80.02,297.03 78.54,297.26 77.06,297.50 75.57,297.72 74.09,297.94 72.60,298.16 71.12,298.37 69.63,298.57 68.15,298.76 66.66,298.94 65.17,299.11 63.67,299.26 62.18,299.39 60.68,299.50 59.18,299.57 57.68,299.58 56.19,299.50 54.71,299.23 53.48,298.66 52.56,297.52 51.95,296.07"/>
<polyline points="460.42,252.83 459.86,252.93 458.38,253.20 456.91,253.47 455.43,253.74 453.96,254.00 452.48,254.27 451.00,254.54 449.53,254.80 448.05,255.07 446.58,255.33 445.10,255.60 443.62,255.86 442.15,256.13 440.67,256.39 439.19,256.65 437.72,256.92 436.24,257.18 434.76,257.44 433.28,257.70 431.81,257.96 430.33,258.22 428.85,258.48 427.38,258.74 425.90,259.00 424.42,259.26 422.94,259.52 421.47,259.78 419.99,260.03 418.51,260.29 417.03,260.55 415.55,260.80 414.08,261.06 412.60,261.31 411.12,261.57 409.64,261.82 408.16,262.07 406.68,262.33 405.20,262.58 403.73,262.83 402.25,263.08 400.77,263.33 399.29,263.58 397.81,263.83 396.33,264.08 394.85,264.33 393.37,264.58 391.89,264.83 390.41,265.08 388.93,265.32 387.46,265.57 385.98,265.82 384.50,266.06 383.02,266.31 381.54,266.55 380.06,266.79 378.58,267.04 377.10,267.28 375.62,267.52 374.13,267.77 372.65,268.01 371.17,268.25 369.69,268.49 368.21,268.73 366.73,268.97 365.25,269.21 363.77,269.45 362.29,269.68 360.81,269.92 359.33,270.16 357.85,270.39 356.36,270.63 354.88,270.86 353.40,271.10 351.92,271.33 350.44,271.57 348.96,271.80 347.47,272.03 345.99,272.26 344.51,272.50 343.03,272.73 341.55,272.96 340.06,273.19 338.58,273.42 337.10,273.65 335.62,273.87 334.13,274.10 332.65,274.33 331.17,274.56 329.69,274.78 328.20,275.01 326.72,275.23 325.24,275.46 323.75,275.68 322.27,275.90 320.79,276.13 319.30,276.35 317.82,276.57 316.34,276.79 314.85,277.01 313.37,277.23 311.88,277.45 310.40,277.67 308.92,277.89 307.43,278.11 305.95,278.32 304.46,278.54 302.98,278.76 301.50,278.97 300.01,279.19 298.53,279.40 297.04,279.61 295.56,279.83 294.07,280.04 292.59,280.25 291.10,280.46 289.62,280.67 288.13,280.88 286.65,281.09 285.16,281.30 283.68,281.51 282.19,281.72 280.70,281.93 279.22,282.13 277.73,282.34 276.25,282.54 274.76,282.75 273.27,282.95 271.79,283.16 270.30,283.36 268.82,283.56 267.33,283.76 265.84,283.96 264.36,284.16 262.87,284.36 261.38,284.56 259.90,284.76 258.41,284.96 256.92,285.16 255.44,285.35 253.95,285.55 252.46,285.74 250.97,285.94 249.49,286.13 248.00,286.33 246.51,286.52 245.02,286.71 243.54,286.90 242.05,287.09 240.56,287.28 239.07,287.47 237.58,287.66 236.10,287.85 234.61,288.04 233.12,288.23 231.63,288.41 230.14,288.60 228.65,288.78 227.17,288.97 225.68,289.15 224.19,289.33 222.70,289.52 221.21,289.70 219.72,289.88 218.23,290.06 216.74,290.24 215.25,290.42 213.76,290.60 212.27,290.77 210.79,290.95 209.30,291.13 207.81,291.30 206.32,291.48 204.83,291.65 203.34,291.82 201.85,292.00 200.36,292.17 198.87,292.34 197.38,292.51 195.89,292.68 194.39,292.85 192.90,293.02 191.41,293.18 189.92,293.35 188.43,293.52 186.94,293.68 185.45,293.85 183.96,294.01 182.47,294.17 180.98,294.33 179.49,294.50 177.99,294.66 176.50,294.82 175.01,294.98 173.52,295.14 172.03,295.29 170.54,295.45 169.04,295.61 167.55,295.76 166.06,295.92 164.57,296.07 163.08,296.22 161.58,296.38 160.09,296.53 158.60,296.68 157.11,296.83 155.61,296.98 154.12,297.12 152.63,297.27 151.14,297.42 149.64,297.56 148.15,297.71 146.66,297.85 145.16,298.00 143.67,298.14 142.18,298.28 140.68,298.42 139.19,298.56 137.70,298.70 136.20,298.84 134.71,298.98 133.22,299.11 131.72,299.25 130.23,299.38 128.73,299.52 127.24,299.65 125.75,299.78 124.25,299.91 122.76,300.04 121.26,300.17 119.77,300.30 118.27,300.43 116.78,300.55 115.28,300.68 113.79,300.80 112.29,300.92 110.80,301.05 109.30,301.17 107.81,301.29 106.31,301.41 104.82,301.52 103.32,301.64 101.83,301.76 100.33,301.87 98.84,301.98 97.34,302.10 95.85,302.21 94.36,302.32 92.86,302.43 91.37,302.53 89.87,302.64 88.38,302.74 86.88,302.85 85.38,302.95 83.89,303.05 82.39,303.15 80.89,303.25 79.43,303.34 77.93,303.43 76.43,303.52 74.93,303.61 73.44,303.70 71.94,303.78 70.46,303.86 68.96,303.94 67.49,304.01 66.03,304.08 64.71,304.14 63.34,304.19 62.20,304.23 60.95,304.26 59.85,304.28 58.83,304.29 57.43,304.29 56.17,304.25 55.39,304.21 54.90,304.16 54.24,304.07 53.67,303.96 53.05,303.74 52.56,303.43 52.24,303.06 52.00,302.50 51.65,301.67"/>
</g>
<g fill="#111" stroke="none">
<polygon points="76.46,55.65 76.75,45.97 79.07,47.56 81.89,47.63"/>
<polygon points="87.44,93.98 88.03,84.31 90.30,85.98 93.11,86.13"/>
<polygon points="101.44,120.27 102.64,110.66 104.81,112.47 107.60,112.80"/>
<polygon points="115.55,142.75 117.53,133.27 119.54,135.24 122.30,135.80"/>
<polygon points="135.81,167.73 138.95,158.56 140.70,160.77 143.37,161.67"/>
<polygon points="154.82,188.37 159.08,179.68 160.54,182.09 163.07,183.31"/>
<polygon points="175.41,205.57 180.75,197.49 181.89,200.07 184.25,201.61"/>
<polygon points="195.80,222.43 202.15,215.12 202.94,217.82 205.08,219.65"/>
<polygon points="215.91,239.34 223.15,232.91 223.58,235.69 225.47,237.78"/>
<polygon points="237.05,257.76 245.08,252.35 245.15,255.17 246.73,257.49"/>
<polygon points="256.92,285.16 265.78,281.25 265.35,284.03 266.50,286.60"/>
</g>
<polyline fill="none" stroke="#0a0aff" stroke-width="1.3" stroke-linejoin="round" points="471.87,307.40 471.85,304.99 471.78,302.59 471.67,300.18 471.52,297.77 471.32,295.36 471.07,292.96 470.78,290.55 470.45,288.14 470.07,285.73 469.65,283.33 469.18,280.92 468.66,278.51 468.11,276.10 467.51,273.70 466.86,271.29 466.17,268.88 465.43,266.47 464.65,264.07 463.83,261.66 462.96,259.25 462.05,256.84 461.09,254.44 460.09,252.03 459.04,249.62 457.95,247.21 456.81,244.81 455.63,242.40 454.40,239.99 453.13,237.59 451.82,235.18 450.46,232.77 449.06,230.36 447.61,227.96 446.12,225.55 444.58,223.14 443.00,220.73 441.37,218.33 439.70,215.92 437.98,213.51 436.22,211.10 434.42,208.70 432.57,206.29 430.68,203.88 428.74,201.47 426.75,199.07 424.73,196.66 422.65,194.25 420.54,191.84 418.38,189.44 416.17,187.03 413.92,184.62 411.62,182.21 409.29,179.81 406.90,177.40 404.47,174.99 402.00,172.58 399.48,170.18 396.92,167.77 394.31,165.36 391.66,162.96 388.96,160.55 386.22,158.14 383.44,155.73 380.61,153.33 377.74,150.92 374.82,148.51 371.85,146.10 368.84,143.70 365.79,141.29 362.70,138.88 359.55,136.47 356.37,134.07 353.14,131.66 349.86,129.25 346.54,126.84 343.18,124.44 339.77,122.03 336.31,119.62 332.82,117.21 329.27,114.81 325.69,112.40 322.05,109.99 318.38,107.58 314.66,105.18 310.89,102.77 307.08,100.36 303.23,97.96 299.33,95.55 295.38,93.14 291.40,90.73 287.36,88.33 283.29,85.92 279.16,83.51 275.00,81.10 270.79,78.70 266.53,76.29 262.23,73.88 257.88,71.47 253.50,69.07 249.06,66.66 244.58,64.25 240.06,61.84 235.49,59.44 230.88,57.03 226.22,54.62 221.52,52.21 216.78,49.81 211.99,47.40 207.15,44.99 202.27,42.58 197.35,40.18 192.38,37.77 187.36,35.36 182.31,32.96 177.20,30.55 172.06,28.14 166.87,25.73 161.63,23.33 156.35,20.92 66.86,20.92"/>
<polyline fill="none" stroke="#f00" stroke-width="1.15" stroke-linejoin="miter" points="68.49,6.58 51.11,307.40 481.57,307.40"/>
<rect x="42.5" y="0.5" width="447.0" height="313.0" fill="none" stroke="#aeaeae" stroke-width="1"/>
<path d="M51.71 313.50v-1.40M51.71 0.50v1.40M72.15 313.50v-1.40M72.15 0.50v1.40M92.60 313.50v-2.40M92.60 0.50v2.40M113.05 313.50v-1.40M113.05 0.50v1.40M133.49 313.50v-1.40M133.49 0.50v1.40M153.94 313.50v-1.40M153.94 0.50v1.40M174.38 313.50v-1.40M174.38 0.50v1.40M194.83 313.50v-2.40M194.83 0.50v2.40M215.28 313.50v-1.40M215.28 0.50v1.40M235.72 313.50v-1.40M235.72 0.50v1.40M256.17 313.50v-1.40M256.17 0.50v1.40M276.61 313.50v-1.40M276.61 0.50v1.40M297.06 313.50v-2.40M297.06 0.50v2.40M317.51 313.50v-1.40M317.51 0.50v1.40M337.95 313.50v-1.40M337.95 0.50v1.40M358.40 313.50v-1.40M358.40 0.50v1.40M378.84 313.50v-1.40M378.84 0.50v1.40M399.29 313.50v-2.40M399.29 0.50v2.40M419.74 313.50v-1.40M419.74 0.50v1.40M440.18 313.50v-1.40M440.18 0.50v1.40M460.63 313.50v-1.40M460.63 0.50v1.40M481.07 313.50v-1.40M481.07 0.50v1.40M42.50 307.40h2.40M489.50 307.40h-2.40M42.50 289.70h1.40M489.50 289.70h-1.40M42.50 272.01h1.40M489.50 272.01h-1.40M42.50 254.31h1.40M489.50 254.31h-1.40M42.50 236.62h2.40M489.50 236.62h-2.40M42.50 218.92h1.40M489.50 218.92h-1.40M42.50 201.23h1.40M489.50 201.23h-1.40M42.50 183.53h1.40M489.50 183.53h-1.40M42.50 165.84h2.40M489.50 165.84h-2.40M42.50 148.14h1.40M489.50 148.14h-1.40M42.50 130.45h1.40M489.50 130.45h-1.40M42.50 112.75h1.40M489.50 112.75h-1.40M42.50 95.06h2.40M489.50 95.06h-2.40M42.50 77.36h1.40M489.50 77.36h-1.40M42.50 59.67h1.40M489.50 59.67h-1.40M42.50 41.98h1.40M489.50 41.98h-1.40M42.50 24.28h2.40M489.50 24.28h-2.40M42.50 6.58h1.40M489.50 6.58h-1.40" stroke="#aeaeae" stroke-width="1" fill="none"/>
<g font-family="Liberation Sans, sans-serif" font-size="14" fill="#666">
<text x="92.6" y="329.0" text-anchor="middle">10</text>
<text x="194.8" y="329.0" text-anchor="middle">20</text>
<text x="297.1" y="329.0" text-anchor="middle">30</text>
<text x="399.3" y="329.0" text-anchor="middle">40</text>
<text x="40.2" y="312.6" text-anchor="end">0.0</text>
<text x="40.2" y="241.8" text-anchor="end">0.2</text>
<text x="40.2" y="171.0" text-anchor="end">0.4</text>
<text x="40.2" y="100.3" text-anchor="end">0.6</text>
<text x="40.2" y="29.5" text-anchor="end">0.8</text>
</g>
<text x="265.9" y="349.2" font-family="Liberation Sans, sans-serif" font-size="14.8" fill="#666" text-anchor="middle">semi−latus rectum p/M</text>
<text transform="translate(14.2,157.3) rotate(-90)" font-family="Liberation Sans, sans-serif" font-size="14.8" fill="#666" text-anchor="middle">eccentricity e</text>
<text transform="translate(59.2,130.9) rotate(-86.7)" font-family="Liberation Sans, sans-serif" font-size="12.4" fill="#000" text-anchor="middle">innermost stable orbit</text>
</svg>
</body></html>
